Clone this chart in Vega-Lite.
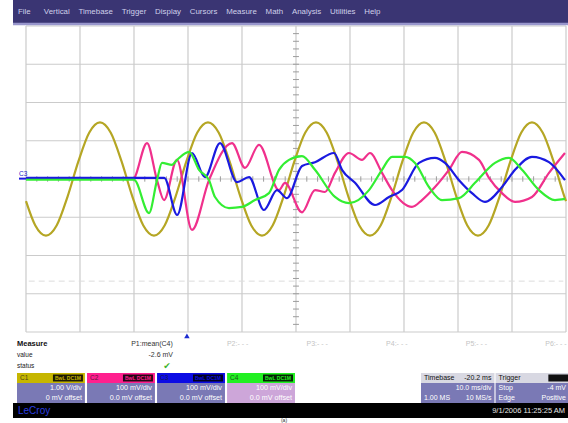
{
  "$schema": "https://vega.github.io/schema/vega-lite/v6.json",
  "padding": {"left": 11, "top": 0, "right": 0, "bottom": 0},
  "background": "white",
  "spacing": 0,
  "bounds": "flush",
  "resolve": {"scale": {"color": "independent", "x": "independent", "y": "independent"}},
  "config": {"view": {"stroke": null}, "text": {"font": "Liberation Sans"}},
  "datasets": {
    "grid_t": [{"t":0},{"t":10},{"t":20},{"t":30},{"t":40},{"t":50},{"t":60},{"t":70},{"t":80},{"t":90},{"t":100}],
    "grid_v": [{"v":-4},{"v":-3},{"v":-2},{"v":-1},{"v":0},{"v":1},{"v":2},{"v":3},{"v":4}],
    "tick_v": [{"v":-3.8},{"v":-3.6},{"v":-3.4},{"v":-3.2},{"v":-3},{"v":-2.8},{"v":-2.6},{"v":-2.4},{"v":-2.2},{"v":-2},{"v":-1.8},{"v":-1.6},{"v":-1.4},{"v":-1.2},{"v":-1},{"v":-0.8},{"v":-0.6},{"v":-0.4},{"v":-0.2},{"v":0},{"v":0.2},{"v":0.4},{"v":0.6},{"v":0.8},{"v":1},{"v":1.2},{"v":1.4},{"v":1.6},{"v":1.8},{"v":2},{"v":2.2},{"v":2.4},{"v":2.6},{"v":2.8},{"v":3},{"v":3.2},{"v":3.4},{"v":3.6},{"v":3.8}],
    "tick_t": [{"t":2},{"t":4},{"t":6},{"t":8},{"t":10},{"t":12},{"t":14},{"t":16},{"t":18},{"t":20},{"t":22},{"t":24},{"t":26},{"t":28},{"t":30},{"t":32},{"t":34},{"t":36},{"t":38},{"t":40},{"t":42},{"t":44},{"t":46},{"t":48},{"t":50},{"t":52},{"t":54},{"t":56},{"t":58},{"t":60},{"t":62},{"t":64},{"t":66},{"t":68},{"t":70},{"t":72},{"t":74},{"t":76},{"t":78},{"t":80},{"t":82},{"t":84},{"t":86},{"t":88},{"t":90},{"t":92},{"t":94},{"t":96},{"t":98}],
    "traces": [
      {"ch":"C1","t":0,"v":-0.58},{"ch":"C1","t":1.7,"v":-1.21},{"ch":"C1","t":3.7,"v":-1.48},{"ch":"C1","t":5.7,"v":-1.21},{"ch":"C1","t":7.7,"v":-0.46},{"ch":"C1","t":9.7,"v":0.46},{"ch":"C1","t":11.7,"v":1.21},{"ch":"C1","t":13.7,"v":1.48},{"ch":"C1","t":15.7,"v":1.21},{"ch":"C1","t":17.7,"v":0.46},
      {"ch":"C1","t":19.7,"v":-0.46},{"ch":"C1","t":21.7,"v":-1.21},{"ch":"C1","t":23.7,"v":-1.48},{"ch":"C1","t":25.7,"v":-1.21},{"ch":"C1","t":27.7,"v":-0.46},{"ch":"C1","t":29.7,"v":0.46},{"ch":"C1","t":31.7,"v":1.21},{"ch":"C1","t":33.7,"v":1.48},{"ch":"C1","t":35.7,"v":1.21},{"ch":"C1","t":37.7,"v":0.46},
      {"ch":"C1","t":39.7,"v":-0.46},{"ch":"C1","t":41.7,"v":-1.21},{"ch":"C1","t":43.7,"v":-1.48},{"ch":"C1","t":45.7,"v":-1.21},{"ch":"C1","t":47.7,"v":-0.46},{"ch":"C1","t":49.7,"v":0.46},{"ch":"C1","t":51.7,"v":1.21},{"ch":"C1","t":53.7,"v":1.48},{"ch":"C1","t":55.7,"v":1.21},{"ch":"C1","t":57.7,"v":0.46},
      {"ch":"C1","t":59.7,"v":-0.46},{"ch":"C1","t":61.7,"v":-1.21},{"ch":"C1","t":63.7,"v":-1.48},{"ch":"C1","t":65.7,"v":-1.21},{"ch":"C1","t":67.7,"v":-0.46},{"ch":"C1","t":69.7,"v":0.46},{"ch":"C1","t":71.7,"v":1.21},{"ch":"C1","t":73.7,"v":1.48},{"ch":"C1","t":75.7,"v":1.21},{"ch":"C1","t":77.7,"v":0.46},
      {"ch":"C1","t":79.7,"v":-0.46},{"ch":"C1","t":81.7,"v":-1.21},{"ch":"C1","t":83.7,"v":-1.48},{"ch":"C1","t":85.7,"v":-1.21},{"ch":"C1","t":87.7,"v":-0.46},{"ch":"C1","t":89.7,"v":0.46},{"ch":"C1","t":91.7,"v":1.21},{"ch":"C1","t":93.7,"v":1.48},{"ch":"C1","t":95.7,"v":1.21},{"ch":"C1","t":97.7,"v":0.46},{"ch":"C1","t":99.7,"v":-0.46},{"ch":"C1","t":100,"v":-0.58},
      {"ch":"C2","t":0,"v":0},{"ch":"C2","t":19.8,"v":0},{"ch":"C2","t":22.41,"v":0.94},{"ch":"C2","t":24.26,"v":-0.03},{"ch":"C2","t":25.56,"v":-0.55},{"ch":"C2","t":27.96,"v":0.5},{"ch":"C2","t":30.74,"v":-1.33},{"ch":"C2","t":33.89,"v":-0.03},{"ch":"C2","t":38.15,"v":0.94},{"ch":"C2","t":40.56,"v":0.29},{"ch":"C2","t":43.15,"v":0.89},{"ch":"C2","t":46.85,"v":-0.29},{"ch":"C2","t":47.96,"v":-0.1},{"ch":"C2","t":51.11,"v":-0.87},{"ch":"C2","t":53.52,"v":-0.29},{"ch":"C2","t":55.37,"v":-0.34},{"ch":"C2","t":57.22,"v":0.16},{"ch":"C2","t":59.81,"v":0.68},{"ch":"C2","t":62.22,"v":0.5},{"ch":"C2","t":63.7,"v":0.68},{"ch":"C2","t":65.93,"v":0.16},{"ch":"C2","t":67.78,"v":-0.29},{"ch":"C2","t":71.48,"v":-0.73},{"ch":"C2","t":73.33,"v":-0.55},{"ch":"C2","t":75.74,"v":-0.21},{"ch":"C2","t":78.33,"v":0.24},{"ch":"C2","t":80.74,"v":0.71},{"ch":"C2","t":83.89,"v":0.5},{"ch":"C2","t":85.74,"v":0.03},{"ch":"C2","t":88.15,"v":-0.37},{"ch":"C2","t":90.56,"v":-0.6},{"ch":"C2","t":93.7,"v":-0.47},{"ch":"C2","t":96.85,"v":0.16},{"ch":"C2","t":99.81,"v":0.68},
      {"ch":"C3","t":0,"v":0.03},{"ch":"C3","t":25.6,"v":0.03},{"ch":"C3","t":28.0,"v":-0.94},{"ch":"C3","t":30.74,"v":0.68},{"ch":"C3","t":33.15,"v":0.05},{"ch":"C3","t":35.93,"v":0.94},{"ch":"C3","t":39.07,"v":-0.08},{"ch":"C3","t":41.3,"v":0.05},{"ch":"C3","t":44.07,"v":-0.81},{"ch":"C3","t":46.48,"v":-0.29},{"ch":"C3","t":48.33,"v":-0.5},{"ch":"C3","t":51.11,"v":0.34},{"ch":"C3","t":53.52,"v":0.44},{"ch":"C3","t":57.04,"v":0.68},{"ch":"C3","t":58.52,"v":0.24},{"ch":"C3","t":60.93,"v":-0.1},{"ch":"C3","t":64.63,"v":-0.68},{"ch":"C3","t":67.22,"v":-0.47},{"ch":"C3","t":69.63,"v":-0.29},{"ch":"C3","t":72.78,"v":0.42},{"ch":"C3","t":75.74,"v":0.55},{"ch":"C3","t":77.59,"v":0.42},{"ch":"C3","t":80.19,"v":-0.03},{"ch":"C3","t":82.59,"v":-0.37},{"ch":"C3","t":85.0,"v":-0.6},{"ch":"C3","t":88.15,"v":-0.21},{"ch":"C3","t":90.56,"v":0.24},{"ch":"C3","t":93.7,"v":0.58},{"ch":"C3","t":96.85,"v":0.44},{"ch":"C3","t":99.81,"v":-0.03},
      {"ch":"C4","t":0,"v":-0.02},{"ch":"C4","t":20.0,"v":-0.02},{"ch":"C4","t":22.78,"v":-0.89},{"ch":"C4","t":24.26,"v":-0.03},{"ch":"C4","t":25.19,"v":0.42},{"ch":"C4","t":27.04,"v":0.37},{"ch":"C4","t":27.96,"v":0.5},{"ch":"C4","t":30.19,"v":0.71},{"ch":"C4","t":32.04,"v":0.24},{"ch":"C4","t":33.89,"v":-0.03},{"ch":"C4","t":35.0,"v":-0.47},{"ch":"C4","t":37.59,"v":-0.76},{"ch":"C4","t":40.0,"v":-0.73},{"ch":"C4","t":42.41,"v":-0.55},{"ch":"C4","t":45.0,"v":-0.37},{"ch":"C4","t":46.85,"v":0.24},{"ch":"C4","t":48.7,"v":0.5},{"ch":"C4","t":51.11,"v":0.6},{"ch":"C4","t":53.52,"v":0.24},{"ch":"C4","t":57.22,"v":-0.47},{"ch":"C4","t":59.81,"v":-0.63},{"ch":"C4","t":63.52,"v":-0.29},{"ch":"C4","t":65.93,"v":0.24},{"ch":"C4","t":67.78,"v":0.58},{"ch":"C4","t":70.19,"v":0.58},{"ch":"C4","t":72.04,"v":0.42},{"ch":"C4","t":74.63,"v":-0.21},{"ch":"C4","t":77.04,"v":-0.55},{"ch":"C4","t":80.19,"v":-0.5},{"ch":"C4","t":83.15,"v":-0.1},{"ch":"C4","t":86.85,"v":0.42},{"ch":"C4","t":89.44,"v":0.55},{"ch":"C4","t":91.85,"v":0.24},{"ch":"C4","t":95.0,"v":-0.29},{"ch":"C4","t":97.96,"v":-0.55},{"ch":"C4","t":99.81,"v":-0.52}
    ],
    "meas": [
      {"p":"P1","label":"P1:mean(C4)","value":"-2.6 mV","status":"✔"},
      {"p":"P2","label":"P2:- - -","value":"","status":""},
      {"p":"P3","label":"P3:- - -","value":"","status":""},
      {"p":"P4","label":"P4:- - -","value":"","status":""},
      {"p":"P5","label":"P5:- - -","value":"","status":""},
      {"p":"P6","label":"P6:- - -","value":"","status":""}
    ],
    "chan": [
      {"box":"C1","line":"header","left":"C1","right":""},
      {"box":"C1","line":"line1","left":"","right":"1.00 V/div"},
      {"box":"C1","line":"line2","left":"","right":"0 mV offset"},
      {"box":"C2","line":"header","left":"C2","right":""},
      {"box":"C2","line":"line1","left":"","right":"100 mV/div"},
      {"box":"C2","line":"line2","left":"","right":"0.0 mV offset"},
      {"box":"C3","line":"header","left":"C3","right":""},
      {"box":"C3","line":"line1","left":"","right":"100 mV/div"},
      {"box":"C3","line":"line2","left":"","right":"0.0 mV offset"},
      {"box":"C4","line":"header","left":"C4","right":""},
      {"box":"C4","line":"line1","left":"","right":"100 mV/div"},
      {"box":"C4","line":"line2","left":"","right":"0.0 mV offset"}
    ],
    "tb": [
      {"box":"Timebase","line":"header","left":"Timebase","right":"-20.2 ms"},
      {"box":"Timebase","line":"line1","left":"","right":"10.0 ms/div"},
      {"box":"Timebase","line":"line2","left":"1.00 MS","right":"10 MS/s"},
      {"box":"Trigger","line":"header","left":"Trigger","right":""},
      {"box":"Trigger","line":"line1","left":"Stop","right":"-4 mV"},
      {"box":"Trigger","line":"line2","left":"Edge","right":"Positive"}
    ]
  },
  "vconcat": [
    {
      "width": 557, "height": 23,
      "view": {"fill": "#3a3573", "stroke": null},
      "data": {"values": [{"menu": "File\u00a0\u00a0\u00a0\u00a0\u00a0\u00a0Vertical\u00a0\u00a0\u00a0\u00a0Timebase\u00a0\u00a0\u00a0\u00a0Trigger\u00a0\u00a0\u00a0\u00a0Display\u00a0\u00a0\u00a0\u00a0Cursors\u00a0\u00a0\u00a0\u00a0Measure\u00a0\u00a0\u00a0\u00a0Math\u00a0\u00a0\u00a0\u00a0Analysis\u00a0\u00a0\u00a0\u00a0Utilities\u00a0\u00a0\u00a0\u00a0Help"}]},
      "mark": {"type": "text", "align": "left", "baseline": "middle", "color": "#d0d0ea", "fontSize": 7.9},
      "encoding": {"x": {"value": 5}, "y": {"value": 11.5}, "text": {"field": "menu"}}
    },
    {
      "width": 557, "height": 318,
      "view": {"fill": "white", "stroke": null},
      "layer": [
        {
          "data": {"name": "grid_t"},
          "mark": {"type": "rule", "color": "#cbcbcb", "strokeWidth": 1.2},
          "encoding": {
            "x": {"field": "t", "type": "quantitative", "scale": {"domain": [-2.407, 100.741], "nice": false, "zero": false}, "axis": null},
            "y": {"datum": -4, "type": "quantitative", "scale": {"domain": [-4.235, 4.078], "nice": false, "zero": false}, "axis": null},
            "y2": {"datum": 4}
          }
        },
        {
          "data": {"name": "grid_v"},
          "mark": {"type": "rule", "color": "#cbcbcb", "strokeWidth": 1.2},
          "encoding": {
            "y": {"field": "v", "type": "quantitative"},
            "x": {"datum": 0, "type": "quantitative"},
            "x2": {"datum": 100}
          }
        },
        {
          "data": {"values": [{"v": -2.67}]},
          "mark": {"type": "rule", "color": "#dddddd", "strokeWidth": 1, "strokeDash": [6, 4]},
          "encoding": {
            "y": {"field": "v", "type": "quantitative"},
            "x": {"datum": 0.5, "type": "quantitative"},
            "x2": {"datum": 99.5}
          }
        },
        {
          "data": {"name": "tick_v"},
          "mark": {"type": "rule", "color": "#9c9c9c", "strokeWidth": 1},
          "encoding": {
            "y": {"field": "v", "type": "quantitative"},
            "x": {"datum": 49.45, "type": "quantitative"},
            "x2": {"datum": 50.55}
          }
        },
        {
          "data": {"name": "tick_t"},
          "mark": {"type": "rule", "color": "#9c9c9c", "strokeWidth": 1},
          "encoding": {
            "x": {"field": "t", "type": "quantitative"},
            "y": {"datum": -0.07, "type": "quantitative"},
            "y2": {"datum": 0.07}
          }
        },
        {
          "data": {"values": [{"edge": "menu"}]},
          "mark": {"type": "rule", "color": "#9896cc", "strokeWidth": 2.5},
          "encoding": {
            "x": {"datum": -2.407, "type": "quantitative"},
            "x2": {"datum": 100.741},
            "y": {"datum": 4.05, "type": "quantitative"}
          }
        },
        {
          "data": {"name": "traces"},
          "mark": {"type": "line", "strokeWidth": 2.2, "interpolate": "monotone"},
          "encoding": {
            "x": {"field": "t", "type": "quantitative"},
            "y": {"field": "v", "type": "quantitative"},
            "color": {"field": "ch", "type": "nominal", "scale": {"domain": ["C1", "C2", "C3", "C4"], "range": ["#b5a624", "#f0308c", "#1a1ae0", "#33ee33"]}, "legend": null}
          }
        },
        {
          "data": {"values": [{"label": "C3"}]},
          "layer": [
            {
              "mark": {"type": "rule", "color": "#1a1ae0", "strokeWidth": 2},
              "encoding": {
                "x": {"datum": -1.3, "type": "quantitative"},
                "x2": {"datum": 0},
                "y": {"datum": 0.01, "type": "quantitative"}
              }
            },
            {
              "mark": {"type": "text", "color": "#2424c8", "fontSize": 6.5, "align": "left", "baseline": "bottom", "dy": -1},
              "encoding": {
                "x": {"datum": -1.3, "type": "quantitative"},
                "y": {"datum": 0.03, "type": "quantitative"},
                "text": {"field": "label"}
              }
            }
          ]
        },
        {
          "data": {"values": [{"trig": 29.8}]},
          "mark": {"type": "point", "shape": "triangle-up", "filled": true, "size": 30, "color": "#1c2cd0", "opacity": 1},
          "encoding": {
            "x": {"field": "trig", "type": "quantitative"},
            "y": {"datum": -4.1, "type": "quantitative"}
          }
        }
      ]
    },
    {
      "width": 557, "height": 31,
      "data": {"name": "meas"},
      "layer": [
        {
          "data": {"values": [{"row": "Measure"}]},
          "mark": {"type": "text", "align": "left", "fontSize": 7.5, "fontWeight": "bold", "color": "#111111"},
          "encoding": {
            "x": {"value": 4},
            "y": {"field": "row", "type": "nominal", "scale": {"type": "point", "domain": ["Measure", "value", "status"], "range": [3, 25], "padding": 0}, "axis": null},
            "text": {"field": "row"}
          }
        },
        {
          "data": {"values": [{"row": "value"}, {"row": "status"}]},
          "mark": {"type": "text", "align": "left", "fontSize": 6.5, "color": "#222222"},
          "encoding": {
            "x": {"value": 4},
            "y": {"field": "row", "type": "nominal", "axis": null},
            "text": {"field": "row"}
          }
        },
        {
          "transform": [{"filter": "datum.p === 'P1'"}],
          "mark": {"type": "text", "fontSize": 7, "color": "#333333", "dx": -6},
          "encoding": {
            "x": {"field": "p", "type": "nominal", "scale": {"type": "point", "domain": ["P1", "P2", "P3", "P4", "P5", "P6"], "range": [145, 543], "padding": 0}, "axis": null},
            "y": {"datum": "Measure", "type": "nominal"},
            "text": {"field": "label"}
          }
        },
        {
          "transform": [{"filter": "datum.p !== 'P1'"}],
          "mark": {"type": "text", "fontSize": 7, "color": "#c4c4c4"},
          "encoding": {
            "x": {"field": "p", "type": "nominal"},
            "y": {"datum": "Measure", "type": "nominal"},
            "text": {"field": "label"}
          }
        },
        {
          "transform": [{"filter": "datum.p === 'P1'"}],
          "mark": {"type": "text", "fontSize": 7, "color": "#333333", "align": "right", "dx": 15},
          "encoding": {
            "x": {"field": "p", "type": "nominal"},
            "y": {"datum": "value", "type": "nominal"},
            "text": {"field": "value"}
          }
        },
        {
          "transform": [{"filter": "datum.p === 'P1'"}],
          "mark": {"type": "text", "fontSize": 9, "font": "DejaVu Sans", "color": "#3cb42a", "dx": 9},
          "encoding": {
            "x": {"field": "p", "type": "nominal"},
            "y": {"datum": "status", "type": "nominal"},
            "text": {"field": "status"}
          }
        }
      ]
    },
    {
      "width": 557, "height": 31,
      "resolve": {"scale": {"x": "independent", "color": "independent"}},
      "layer": [
        {
          "data": {"name": "chan"},
          "encoding": {
            "x": {"field": "box", "type": "nominal", "scale": {"domain": ["C1", "C2", "C3", "C4"], "range": [4, 282], "paddingInner": 0.03, "paddingOuter": 0}, "axis": null},
            "y": {"field": "line", "type": "nominal", "scale": {"domain": ["header", "line1", "line2"], "range": [1, 31], "paddingInner": 0, "paddingOuter": 0}, "axis": null}
          },
          "layer": [
            {
              "transform": [{"filter": "datum.line === 'header'"}],
              "mark": {"type": "rect"},
              "encoding": {"color": {"field": "box", "type": "nominal", "scale": {"domain": ["C1", "C2", "C3", "C4"], "range": ["#c6b600", "#ff1f8e", "#0c0ce4", "#22f022"]}, "legend": null}}
            },
            {
              "transform": [{"filter": "datum.line !== 'header'"}],
              "mark": {"type": "rect"},
              "encoding": {"color": {"condition": {"test": "datum.box === 'C4'", "value": "#cda6d9"}, "value": "#7a79b5"}}
            },
            {
              "transform": [{"filter": "datum.line === 'header'"}],
              "mark": {"type": "point", "shape": "M-1,-0.233L1,-0.233L1,0.233L-1,0.233Z", "filled": true, "size": 900, "color": "#000000", "opacity": 0.85},
              "encoding": {"x": {"field": "box", "type": "nominal", "bandPosition": 0.75}}
            },
            {
              "transform": [{"filter": "datum.line === 'header'"}],
              "mark": {"type": "text", "fontSize": 5, "fontWeight": "bold"},
              "encoding": {
                "x": {"field": "box", "type": "nominal", "bandPosition": 0.75},
                "text": {"value": "BwL DC1M"},
                "color": {"field": "box", "type": "nominal", "legend": null}
              }
            },
            {
              "transform": [{"filter": "datum.line === 'header'"}],
              "mark": {"type": "text", "align": "left", "dx": 3, "fontSize": 6.5, "color": "#1a1a1a", "opacity": 0.75},
              "encoding": {"x": {"field": "box", "type": "nominal", "bandPosition": 0}, "text": {"field": "left"}}
            },
            {
              "transform": [{"filter": "datum.line !== 'header'"}],
              "mark": {"type": "text", "align": "right", "dx": -3, "fontSize": 7.2, "color": "#ffffff"},
              "encoding": {"x": {"field": "box", "type": "nominal", "bandPosition": 1}, "text": {"field": "right"}}
            }
          ]
        },
        {
          "data": {"name": "tb"},
          "encoding": {
            "x": {"field": "box", "type": "nominal", "scale": {"domain": ["Timebase", "Trigger"], "range": [408, 556], "paddingInner": 0.015, "paddingOuter": 0}, "axis": null},
            "y": {"field": "line", "type": "nominal", "axis": null}
          },
          "layer": [
            {
              "mark": {"type": "rect"},
              "encoding": {"color": {"condition": {"test": "datum.line === 'header'", "value": "#d8d8e2"}, "value": "#7a79b5"}}
            },
            {
              "transform": [{"filter": "datum.box === 'Trigger' && datum.line === 'header'"}],
              "mark": {"type": "point", "shape": "M-1,-0.35L1,-0.35L1,0.35L-1,0.35Z", "filled": true, "size": 400, "color": "#111111", "opacity": 1},
              "encoding": {"x": {"field": "box", "type": "nominal", "bandPosition": 0.855}}
            },
            {
              "mark": {"type": "text", "align": "left", "dx": 3, "fontSize": 7},
              "encoding": {
                "x": {"field": "box", "type": "nominal", "bandPosition": 0},
                "text": {"field": "left"},
                "color": {"condition": {"test": "datum.line === 'header'", "value": "#111111"}, "value": "#ffffff"}
              }
            },
            {
              "mark": {"type": "text", "align": "right", "dx": -3, "fontSize": 7},
              "encoding": {
                "x": {"field": "box", "type": "nominal", "bandPosition": 1},
                "text": {"field": "right"},
                "color": {"condition": {"test": "datum.line === 'header'", "value": "#111111"}, "value": "#ffffff"}
              }
            }
          ]
        }
      ]
    },
    {
      "width": 557, "height": 15,
      "view": {"fill": "#000000", "stroke": null},
      "data": {"values": [{"brand": "LeCroy", "stamp": "9/1/2006 11:25:25 AM"}]},
      "layer": [
        {
          "mark": {"type": "text", "align": "left", "baseline": "middle", "fontSize": 10, "color": "#2b3ee0"},
          "encoding": {"x": {"value": 5}, "y": {"value": 7.5}, "text": {"field": "brand"}}
        },
        {
          "mark": {"type": "text", "align": "right", "baseline": "middle", "fontSize": 7.5, "color": "#e6e6e6"},
          "encoding": {"x": {"value": 552}, "y": {"value": 8}, "text": {"field": "stamp"}}
        }
      ]
    },
    {
      "width": 557, "height": 5,
      "data": {"values": [{"cap": "(a)"}]},
      "mark": {"type": "text", "baseline": "top", "fontSize": 5, "color": "#333333"},
      "encoding": {"x": {"value": 271}, "y": {"value": 0}, "text": {"field": "cap"}}
    }
  ]
}
